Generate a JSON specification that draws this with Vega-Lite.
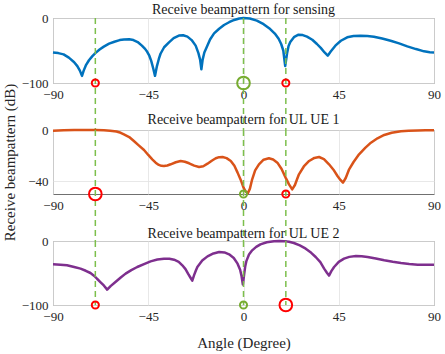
{
  "$schema": "https://vega.github.io/schema/vega-lite/v6.json",
  "autosize": {"type": "none"},
  "padding": {"left": 53, "top": 18, "right": 11, "bottom": 336},
  "background": "white",
  "bounds": "flush",
  "spacing": 47,
  "datasets": {
    "sensing": [
      {"angle": -90, "gain": -53}, {"angle": -87.5, "gain": -54}, {"angle": -85, "gain": -56}, {"angle": -82.5, "gain": -61},
      {"angle": -80, "gain": -68}, {"angle": -78.5, "gain": -74}, {"angle": -77.3, "gain": -81}, {"angle": -76.3, "gain": -89},
      {"angle": -75.5, "gain": -81}, {"angle": -74.5, "gain": -73}, {"angle": -73, "gain": -65}, {"angle": -71.5, "gain": -59},
      {"angle": -70, "gain": -54}, {"angle": -68, "gain": -48.5}, {"angle": -66, "gain": -44}, {"angle": -63.5, "gain": -39.5},
      {"angle": -61, "gain": -36.5}, {"angle": -58.5, "gain": -34}, {"angle": -56.5, "gain": -33}, {"angle": -54, "gain": -32.8},
      {"angle": -52, "gain": -34}, {"angle": -50, "gain": -37}, {"angle": -48, "gain": -42.5}, {"angle": -46.5, "gain": -47.5},
      {"angle": -45.5, "gain": -52}, {"angle": -44.5, "gain": -58}, {"angle": -43.6, "gain": -66}, {"angle": -42.7, "gain": -77},
      {"angle": -41.8, "gain": -89}, {"angle": -40.9, "gain": -74}, {"angle": -40, "gain": -63}, {"angle": -39.2, "gain": -55},
      {"angle": -37.5, "gain": -45}, {"angle": -35.2, "gain": -37.5}, {"angle": -33, "gain": -31}, {"angle": -30.5, "gain": -27},
      {"angle": -28.5, "gain": -26.5}, {"angle": -26.5, "gain": -28.7}, {"angle": -24.5, "gain": -34}, {"angle": -22.6, "gain": -42.5},
      {"angle": -21.3, "gain": -54}, {"angle": -20.5, "gain": -64}, {"angle": -19.9, "gain": -79}, {"angle": -19.3, "gain": -64},
      {"angle": -18.5, "gain": -53}, {"angle": -17.4, "gain": -45}, {"angle": -15.8, "gain": -33}, {"angle": -13.9, "gain": -23.6},
      {"angle": -11.5, "gain": -16.5}, {"angle": -9.2, "gain": -10.8}, {"angle": -6.8, "gain": -6.5}, {"angle": -4.4, "gain": -3},
      {"angle": -2, "gain": -0.7}, {"angle": 0, "gain": 0}, {"angle": 3, "gain": -0.8}, {"angle": 6.3, "gain": -4},
      {"angle": 9.5, "gain": -9.5}, {"angle": 12.6, "gain": -17}, {"angle": 14.8, "gain": -24}, {"angle": 16.6, "gain": -32},
      {"angle": 17.8, "gain": -40}, {"angle": 18.8, "gain": -50}, {"angle": 19.7, "gain": -74}, {"angle": 20.6, "gain": -54},
      {"angle": 21.3, "gain": -43}, {"angle": 22.1, "gain": -37}, {"angle": 24, "gain": -29}, {"angle": 26, "gain": -25.6},
      {"angle": 28, "gain": -26.3}, {"angle": 30, "gain": -28.7}, {"angle": 32.5, "gain": -33.5}, {"angle": 34.7, "gain": -40},
      {"angle": 36.5, "gain": -46}, {"angle": 38.3, "gain": -53}, {"angle": 39.8, "gain": -58}, {"angle": 41.2, "gain": -51.5},
      {"angle": 43.4, "gain": -42.6}, {"angle": 46, "gain": -35}, {"angle": 49, "gain": -29.7}, {"angle": 52, "gain": -27.8},
      {"angle": 55.3, "gain": -27.2}, {"angle": 58.5, "gain": -27.6}, {"angle": 61.6, "gain": -28.7}, {"angle": 65.5, "gain": -31.5},
      {"angle": 69.5, "gain": -35}, {"angle": 73.5, "gain": -39}, {"angle": 77.4, "gain": -43.6}, {"angle": 81.5, "gain": -47.8},
      {"angle": 85.3, "gain": -51.3}, {"angle": 88, "gain": -52.8}, {"angle": 90, "gain": -53}
    ],
    "ue1": [
      {"angle": -90, "gain": -0.5}, {"angle": -85, "gain": -0.2}, {"angle": -80, "gain": 0}, {"angle": -75, "gain": 0},
      {"angle": -70, "gain": 0}, {"angle": -66, "gain": -0.2}, {"angle": -63, "gain": -0.5}, {"angle": -60, "gain": -1.2},
      {"angle": -58, "gain": -2.2}, {"angle": -56.5, "gain": -3.4}, {"angle": -54, "gain": -5.5}, {"angle": -51.8, "gain": -8.6},
      {"angle": -49.5, "gain": -12}, {"angle": -47, "gain": -15.6}, {"angle": -45, "gain": -19.5}, {"angle": -43.1, "gain": -22.9},
      {"angle": -41.5, "gain": -25.5}, {"angle": -40, "gain": -27.3}, {"angle": -38.8, "gain": -28}, {"angle": -37.6, "gain": -28.1},
      {"angle": -36, "gain": -27.7}, {"angle": -34.4, "gain": -26.8}, {"angle": -32, "gain": -25.2}, {"angle": -29.7, "gain": -24.2},
      {"angle": -27.7, "gain": -24.8}, {"angle": -25.7, "gain": -26}, {"angle": -23.3, "gain": -27.8}, {"angle": -21, "gain": -28.9},
      {"angle": -19, "gain": -28.3}, {"angle": -17, "gain": -26.3}, {"angle": -15, "gain": -24}, {"angle": -13.1, "gain": -22.1},
      {"angle": -11.5, "gain": -21.2}, {"angle": -9.9, "gain": -21.1}, {"angle": -8, "gain": -22}, {"angle": -6, "gain": -24.2},
      {"angle": -4.3, "gain": -28}, {"angle": -2.8, "gain": -33.3}, {"angle": -1.3, "gain": -39}, {"angle": 0, "gain": -45},
      {"angle": 1, "gain": -48}, {"angle": 2, "gain": -49.5}, {"angle": 3, "gain": -46}, {"angle": 4.1, "gain": -38.5},
      {"angle": 5.5, "gain": -31.5}, {"angle": 7.3, "gain": -26.8}, {"angle": 9.5, "gain": -23.2}, {"angle": 12, "gain": -22.1},
      {"angle": 14, "gain": -23}, {"angle": 16, "gain": -25.5}, {"angle": 18, "gain": -30.5}, {"angle": 19.9, "gain": -37.2},
      {"angle": 21.5, "gain": -42.5}, {"angle": 23, "gain": -46.4}, {"angle": 24.3, "gain": -43}, {"angle": 25.3, "gain": -38.5},
      {"angle": 26.2, "gain": -34.6}, {"angle": 28.5, "gain": -28.5}, {"angle": 31, "gain": -24.2}, {"angle": 33.5, "gain": -21.8},
      {"angle": 35.7, "gain": -21.1}, {"angle": 38, "gain": -22.7}, {"angle": 40.4, "gain": -26.8}, {"angle": 42.5, "gain": -31},
      {"angle": 44.4, "gain": -35.9}, {"angle": 45.8, "gain": -39}, {"angle": 47, "gain": -41.1}, {"angle": 48.3, "gain": -37.5},
      {"angle": 49.9, "gain": -30.7}, {"angle": 52, "gain": -25}, {"angle": 54.6, "gain": -19}, {"angle": 57.5, "gain": -14},
      {"angle": 60.2, "gain": -9.9}, {"angle": 63.3, "gain": -6.5}, {"angle": 66.5, "gain": -3.9}, {"angle": 70, "gain": -2.2},
      {"angle": 74.4, "gain": -1}, {"angle": 78, "gain": -0.5}, {"angle": 82.3, "gain": -0.3}, {"angle": 86, "gain": -0.2},
      {"angle": 90, "gain": -0.2}
    ],
    "ue2": [
      {"angle": -90, "gain": -36.5}, {"angle": -86.5, "gain": -37}, {"angle": -83.4, "gain": -38}, {"angle": -80, "gain": -40.5},
      {"angle": -77, "gain": -43.2}, {"angle": -74.5, "gain": -46.5}, {"angle": -72.3, "gain": -50}, {"angle": -70.5, "gain": -54.5},
      {"angle": -69.2, "gain": -59}, {"angle": -67.5, "gain": -64.5}, {"angle": -66, "gain": -69.5}, {"angle": -64.4, "gain": -76},
      {"angle": -62.8, "gain": -70.5}, {"angle": -60.5, "gain": -64}, {"angle": -58, "gain": -57}, {"angle": -55.7, "gain": -51},
      {"angle": -53, "gain": -45.5}, {"angle": -50.2, "gain": -40.6}, {"angle": -47, "gain": -36}, {"angle": -43.9, "gain": -31.8},
      {"angle": -40.7, "gain": -29}, {"angle": -37.6, "gain": -27.6}, {"angle": -35, "gain": -27.6}, {"angle": -32.8, "gain": -29.2},
      {"angle": -30.6, "gain": -32.5}, {"angle": -28.9, "gain": -38}, {"angle": -27.4, "gain": -44}, {"angle": -26.2, "gain": -51},
      {"angle": -25.1, "gain": -57}, {"angle": -24.2, "gain": -62}, {"angle": -23.3, "gain": -53}, {"angle": -22.5, "gain": -46},
      {"angle": -21.8, "gain": -40.6}, {"angle": -19.5, "gain": -30.5}, {"angle": -17, "gain": -24}, {"angle": -14.2, "gain": -19.5},
      {"angle": -11.5, "gain": -17.2}, {"angle": -9, "gain": -17.8}, {"angle": -6.8, "gain": -20.8}, {"angle": -4.6, "gain": -26.5},
      {"angle": -2.8, "gain": -35.4}, {"angle": -1.6, "gain": -45}, {"angle": -0.9, "gain": -55}, {"angle": -0.3, "gain": -68},
      {"angle": 0.3, "gain": -52}, {"angle": 0.8, "gain": -40}, {"angle": 1.4, "gain": -31}, {"angle": 2.6, "gain": -21},
      {"angle": 4.1, "gain": -14.6}, {"angle": 6, "gain": -9.2}, {"angle": 8, "gain": -5.2}, {"angle": 11, "gain": -2},
      {"angle": 14.4, "gain": -0.3}, {"angle": 17, "gain": 0}, {"angle": 19.1, "gain": -0.2}, {"angle": 21.5, "gain": -1.2},
      {"angle": 23.8, "gain": -3.1}, {"angle": 26.6, "gain": -6.9}, {"angle": 29.4, "gain": -12}, {"angle": 32, "gain": -18.5},
      {"angle": 34.1, "gain": -25}, {"angle": 36.3, "gain": -33}, {"angle": 38.1, "gain": -43.2}, {"angle": 39.4, "gain": -49.5},
      {"angle": 40.4, "gain": -54}, {"angle": 41.5, "gain": -47}, {"angle": 42.8, "gain": -40.6}, {"angle": 45, "gain": -32.5},
      {"angle": 47.5, "gain": -27.6}, {"angle": 50, "gain": -24.8}, {"angle": 53.1, "gain": -23.4}, {"angle": 55.8, "gain": -23.8},
      {"angle": 58.6, "gain": -25}, {"angle": 62.5, "gain": -27.5}, {"angle": 66.5, "gain": -30.2}, {"angle": 70.5, "gain": -32.5},
      {"angle": 74.4, "gain": -34.4}, {"angle": 78.3, "gain": -35.9}, {"angle": 82.3, "gain": -37}, {"angle": 86, "gain": -37.2},
      {"angle": 90, "gain": -37}
    ],
    "markers": [
      {"panel": "s", "angle": -70, "kind": "UE", "role": "other"},
      {"panel": "s", "angle": 0, "kind": "target", "role": "desired"},
      {"panel": "s", "angle": 20, "kind": "UE", "role": "other"},
      {"panel": "u1", "angle": -70, "kind": "UE", "role": "desired"},
      {"panel": "u1", "angle": 0, "kind": "target", "role": "other"},
      {"panel": "u1", "angle": 20, "kind": "UE", "role": "other"},
      {"panel": "u2", "angle": -70, "kind": "UE", "role": "other"},
      {"panel": "u2", "angle": 0, "kind": "target", "role": "other"},
      {"panel": "u2", "angle": 20, "kind": "UE", "role": "desired"}
    ]
  },
  "vconcat": [
    {
      "width": 381, "height": 65,
      "title": {"text": "Receive beampattern for sensing", "offset": -4.5},
      "encoding": {
        "x": {"field": "angle", "type": "quantitative", "scale": {"domain": [-90, 90], "nice": false},
              "axis": {"values": [-90, -45, 0, 45, 90], "title": null}}
      },
      "layer": [
        {"data": {"name": "sensing"},
         "mark": {"type": "line", "color": "#0072BD", "strokeWidth": 2.5, "strokeJoin": "round"},
         "encoding": {"y": {"field": "gain", "type": "quantitative", "scale": {"domain": [-100, 0], "nice": false},
                            "axis": {"values": [-100, -50, 0], "title": null, "labelOverlap": false, "labelBound": false}}}},
        {"data": {"name": "markers"}, "transform": [{"filter": "datum.panel == 's'"}],
         "mark": {"type": "rule", "color": "#7DBF4C", "strokeWidth": 1.5, "strokeDash": [6, 4], "clip": false},
         "encoding": {"y": {"datum": 0}, "y2": {"datum": -172.3}}},
        {"data": {"name": "markers"}, "transform": [{"filter": "datum.panel == 's'"}],
         "mark": {"type": "point", "filled": false, "strokeWidth": 2, "opacity": 1, "clip": false},
         "encoding": {"y": {"datum": -100},
                      "color": {"field": "kind", "type": "nominal", "scale": {"domain": ["target", "UE"], "range": ["#77AC30", "#FF0000"]}, "legend": null},
                      "size": {"field": "role", "type": "nominal", "scale": {"domain": ["desired", "other"], "range": [160, 50]}, "legend": null}}}
      ]
    },
    {
      "width": 381, "height": 64,
      "title": {"text": "Receive beampattern for UL UE 1", "offset": -43.5},
      "encoding": {
        "x": {"field": "angle", "type": "quantitative", "scale": {"domain": [-90, 90], "nice": false},
              "axis": {"values": [-90, -45, 0, 45, 90], "title": null}}
      },
      "layer": [
        {"data": {"name": "ue1"},
         "mark": {"type": "line", "color": "#D95319", "strokeWidth": 2.5, "strokeJoin": "round"},
         "encoding": {"y": {"field": "gain", "type": "quantitative", "scale": {"domain": [-50, 0], "nice": false},
                            "axis": {"values": [-40, -20, 0], "title": "Receive beampattern (dB)", "titlePadding": 10, "labelOverlap": false, "labelBound": false}}}},
        {"data": {"name": "markers"}, "transform": [{"filter": "datum.panel == 'u1'"}],
         "mark": {"type": "rule", "color": "#7DBF4C", "strokeWidth": 1.5, "strokeDash": [6, 4], "clip": false},
         "encoding": {"y": {"datum": 0}, "y2": {"datum": -86.7}}},
        {"data": {"name": "markers"}, "transform": [{"filter": "datum.panel == 'u1'"}],
         "mark": {"type": "point", "filled": false, "strokeWidth": 2, "opacity": 1, "clip": false},
         "encoding": {"y": {"datum": -50},
                      "color": {"field": "kind", "type": "nominal", "scale": {"domain": ["target", "UE"], "range": ["#77AC30", "#FF0000"]}, "legend": null},
                      "size": {"field": "role", "type": "nominal", "scale": {"domain": ["desired", "other"], "range": [160, 50]}, "legend": null}}}
      ]
    },
    {
      "width": 381, "height": 64,
      "title": {"text": "Receive beampattern for UL UE 2", "offset": -5.5},
      "encoding": {
        "x": {"field": "angle", "type": "quantitative", "scale": {"domain": [-90, 90], "nice": false},
              "axis": {"values": [-90, -45, 0, 45, 90], "title": "Angle (Degree)", "titlePadding": 12}}
      },
      "layer": [
        {"data": {"name": "ue2"},
         "mark": {"type": "line", "color": "#7E2F8E", "strokeWidth": 2.5, "strokeJoin": "round"},
         "encoding": {"y": {"field": "gain", "type": "quantitative", "scale": {"domain": [-100, 0], "nice": false},
                            "axis": {"values": [-100, -50, 0], "title": null, "labelOverlap": false, "labelBound": false}}}},
        {"data": {"name": "markers"}, "transform": [{"filter": "datum.panel == 'u2'"}],
         "mark": {"type": "rule", "color": "#7DBF4C", "strokeWidth": 1.5, "strokeDash": [6, 4], "clip": false},
         "encoding": {"y": {"datum": 0}, "y2": {"datum": -100}}},
        {"data": {"name": "markers"}, "transform": [{"filter": "datum.panel == 'u2'"}],
         "mark": {"type": "point", "filled": false, "strokeWidth": 2, "opacity": 1, "clip": false},
         "encoding": {"y": {"datum": -100},
                      "color": {"field": "kind", "type": "nominal", "scale": {"domain": ["target", "UE"], "range": ["#77AC30", "#FF0000"]}, "legend": null},
                      "size": {"field": "role", "type": "nominal", "scale": {"domain": ["desired", "other"], "range": [160, 50]}, "legend": null}}}
      ]
    }
  ],
  "config": {
    "font": "Liberation Serif",
    "view": {"stroke": "#707070", "strokeWidth": 1},
    "axis": {
      "labelFont": "Liberation Serif", "labelFontSize": 13, "labelColor": "#262626",
      "titleFont": "Liberation Serif", "titleFontSize": 15, "titleFontWeight": "normal", "titleColor": "#262626",
      "gridColor": "#e2e2e2", "gridWidth": 0.8, "domain": false,
      "ticks": false, "labelPadding": 5, "labelOverlap": false, "labelFlush": false
    },
    "title": {"font": "Liberation Serif", "fontSize": 14, "fontWeight": "normal", "color": "#1a1a1a", "offset": -3}
  }
}
